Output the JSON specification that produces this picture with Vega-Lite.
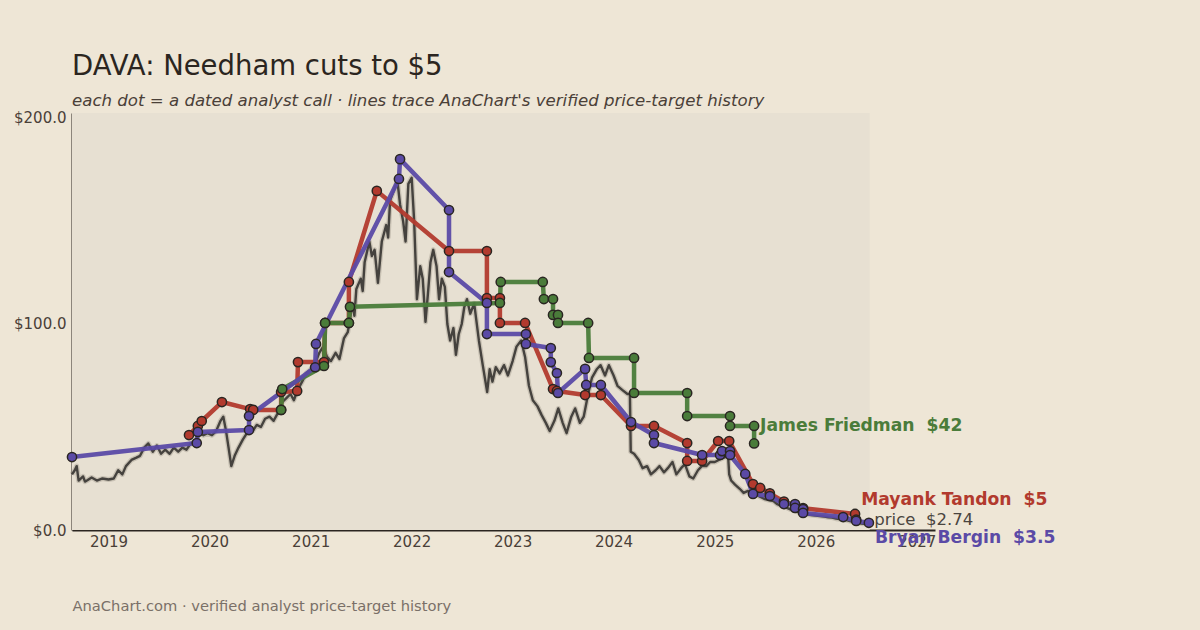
{
  "$schema": "https://vega.github.io/schema/vega-lite/v6.json",
  "width": 863,
  "height": 417,
  "autosize": {"type": "none"},
  "padding": {"left": 72, "top": 113, "right": 265, "bottom": 100},
  "background": "#EEE6D6",
  "config": {"view": {"stroke": null}, "font": "DejaVu Sans"},
  "title": {
    "text": "DAVA: Needham cuts to $5",
    "subtitle": "each dot = a dated analyst call · lines trace AnaChart's verified price-target history",
    "anchor": "start",
    "frame": "group",
    "font": "DejaVu Sans",
    "fontSize": 27.5,
    "fontWeight": "normal",
    "color": "#2B2520",
    "subtitleFont": "DejaVu Sans",
    "subtitleFontSize": 16.6,
    "subtitleFontStyle": "italic",
    "subtitleColor": "#4A4038",
    "subtitlePadding": 13,
    "offset": 1
  },
  "datasets": {
    "price": [
      {"date": "2018-08-22", "close": 27}, {"date": "2018-09-01", "close": 29}, {"date": "2018-09-08", "close": 31}, {"date": "2018-09-15", "close": 24},
      {"date": "2018-10-01", "close": 26}, {"date": "2018-10-08", "close": 23.5}, {"date": "2018-10-15", "close": 24}, {"date": "2018-11-01", "close": 25.5}, {"date": "2018-11-20", "close": 24},
      {"date": "2018-12-10", "close": 25}, {"date": "2019-01-01", "close": 24.5}, {"date": "2019-01-20", "close": 25}, {"date": "2019-02-05", "close": 29},
      {"date": "2019-02-20", "close": 27}, {"date": "2019-03-05", "close": 31}, {"date": "2019-03-25", "close": 34}, {"date": "2019-04-10", "close": 35},
      {"date": "2019-04-25", "close": 36}, {"date": "2019-05-10", "close": 40}, {"date": "2019-05-25", "close": 42}, {"date": "2019-06-10", "close": 38},
      {"date": "2019-06-25", "close": 41}, {"date": "2019-07-10", "close": 37}, {"date": "2019-07-25", "close": 39}, {"date": "2019-08-10", "close": 37},
      {"date": "2019-08-25", "close": 40}, {"date": "2019-09-10", "close": 38}, {"date": "2019-09-25", "close": 40}, {"date": "2019-10-10", "close": 39},
      {"date": "2019-10-25", "close": 42}, {"date": "2019-11-10", "close": 43}, {"date": "2019-11-25", "close": 47}, {"date": "2019-12-10", "close": 46},
      {"date": "2019-12-25", "close": 47}, {"date": "2020-01-10", "close": 46}, {"date": "2020-01-25", "close": 48}, {"date": "2020-02-10", "close": 53},
      {"date": "2020-02-20", "close": 55}, {"date": "2020-03-01", "close": 48}, {"date": "2020-03-10", "close": 40}, {"date": "2020-03-20", "close": 31},
      {"date": "2020-04-01", "close": 36}, {"date": "2020-04-15", "close": 40}, {"date": "2020-05-01", "close": 44}, {"date": "2020-05-20", "close": 48},
      {"date": "2020-06-05", "close": 48}, {"date": "2020-06-20", "close": 51}, {"date": "2020-07-05", "close": 50}, {"date": "2020-07-20", "close": 54},
      {"date": "2020-08-05", "close": 55}, {"date": "2020-08-20", "close": 53}, {"date": "2020-09-05", "close": 57}, {"date": "2020-09-20", "close": 62},
      {"date": "2020-10-05", "close": 64}, {"date": "2020-10-20", "close": 66}, {"date": "2020-11-01", "close": 63}, {"date": "2020-11-15", "close": 68},
      {"date": "2020-12-01", "close": 72}, {"date": "2020-12-15", "close": 76}, {"date": "2021-01-01", "close": 78}, {"date": "2021-01-15", "close": 80},
      {"date": "2021-02-01", "close": 86}, {"date": "2021-02-15", "close": 89}, {"date": "2021-03-01", "close": 84}, {"date": "2021-03-15", "close": 82},
      {"date": "2021-04-01", "close": 86}, {"date": "2021-04-15", "close": 83}, {"date": "2021-05-01", "close": 93}, {"date": "2021-05-15", "close": 96},
      {"date": "2021-06-01", "close": 110}, {"date": "2021-06-08", "close": 104}, {"date": "2021-06-15", "close": 117}, {"date": "2021-07-01", "close": 122}, {"date": "2021-07-08", "close": 116}, {"date": "2021-07-15", "close": 130},
      {"date": "2021-08-01", "close": 140}, {"date": "2021-08-10", "close": 133}, {"date": "2021-08-20", "close": 136}, {"date": "2021-09-01", "close": 120},
      {"date": "2021-09-15", "close": 140}, {"date": "2021-10-01", "close": 148}, {"date": "2021-10-08", "close": 142}, {"date": "2021-10-15", "close": 160}, {"date": "2021-11-01", "close": 166},
      {"date": "2021-11-10", "close": 170}, {"date": "2021-11-20", "close": 158}, {"date": "2021-12-01", "close": 150}, {"date": "2021-12-10", "close": 140},
      {"date": "2021-12-20", "close": 168}, {"date": "2022-01-01", "close": 171}, {"date": "2022-01-10", "close": 150}, {"date": "2022-01-20", "close": 112},
      {"date": "2022-02-01", "close": 128}, {"date": "2022-02-10", "close": 122}, {"date": "2022-02-20", "close": 101}, {"date": "2022-03-01", "close": 115},
      {"date": "2022-03-10", "close": 130}, {"date": "2022-03-20", "close": 136}, {"date": "2022-04-01", "close": 128}, {"date": "2022-04-10", "close": 112},
      {"date": "2022-04-20", "close": 122}, {"date": "2022-05-01", "close": 118}, {"date": "2022-05-10", "close": 100}, {"date": "2022-05-20", "close": 92},
      {"date": "2022-06-01", "close": 98}, {"date": "2022-06-10", "close": 85}, {"date": "2022-06-20", "close": 95}, {"date": "2022-07-01", "close": 100},
      {"date": "2022-07-10", "close": 108}, {"date": "2022-07-20", "close": 112}, {"date": "2022-08-01", "close": 105}, {"date": "2022-08-15", "close": 110},
      {"date": "2022-09-01", "close": 92}, {"date": "2022-09-15", "close": 80}, {"date": "2022-10-01", "close": 67}, {"date": "2022-10-10", "close": 78},
      {"date": "2022-10-20", "close": 72}, {"date": "2022-11-01", "close": 79}, {"date": "2022-11-15", "close": 76}, {"date": "2022-12-01", "close": 80},
      {"date": "2022-12-15", "close": 75}, {"date": "2023-01-01", "close": 82}, {"date": "2023-01-15", "close": 89}, {"date": "2023-02-01", "close": 92},
      {"date": "2023-02-15", "close": 84}, {"date": "2023-03-01", "close": 70}, {"date": "2023-03-15", "close": 63}, {"date": "2023-04-01", "close": 60},
      {"date": "2023-04-15", "close": 56}, {"date": "2023-05-01", "close": 52}, {"date": "2023-05-15", "close": 48}, {"date": "2023-06-01", "close": 53},
      {"date": "2023-06-15", "close": 59}, {"date": "2023-07-01", "close": 52}, {"date": "2023-07-15", "close": 47}, {"date": "2023-08-01", "close": 55},
      {"date": "2023-08-15", "close": 59}, {"date": "2023-09-01", "close": 52}, {"date": "2023-09-15", "close": 55}, {"date": "2023-10-01", "close": 66},
      {"date": "2023-10-15", "close": 74}, {"date": "2023-11-01", "close": 78}, {"date": "2023-11-15", "close": 80}, {"date": "2023-12-01", "close": 75},
      {"date": "2023-12-15", "close": 80}, {"date": "2024-01-01", "close": 75}, {"date": "2024-01-15", "close": 70}, {"date": "2024-02-01", "close": 68},
      {"date": "2024-02-20", "close": 66}, {"date": "2024-02-29", "close": 66}, {"date": "2024-03-03", "close": 38}, {"date": "2024-03-15", "close": 37},
      {"date": "2024-04-01", "close": 34}, {"date": "2024-04-15", "close": 30}, {"date": "2024-05-01", "close": 31}, {"date": "2024-05-15", "close": 27},
      {"date": "2024-06-01", "close": 29}, {"date": "2024-06-15", "close": 31}, {"date": "2024-07-01", "close": 28}, {"date": "2024-07-15", "close": 30},
      {"date": "2024-08-01", "close": 33}, {"date": "2024-08-15", "close": 27}, {"date": "2024-09-01", "close": 30}, {"date": "2024-09-15", "close": 32},
      {"date": "2024-10-01", "close": 26}, {"date": "2024-10-15", "close": 25}, {"date": "2024-11-01", "close": 29}, {"date": "2024-11-15", "close": 31},
      {"date": "2024-12-01", "close": 31}, {"date": "2024-12-15", "close": 33}, {"date": "2025-01-01", "close": 33}, {"date": "2025-01-15", "close": 34},
      {"date": "2025-02-01", "close": 35}, {"date": "2025-02-18", "close": 36}, {"date": "2025-02-22", "close": 27}, {"date": "2025-03-01", "close": 24},
      {"date": "2025-03-15", "close": 22}, {"date": "2025-04-01", "close": 20}, {"date": "2025-04-15", "close": 18}, {"date": "2025-05-01", "close": 19},
      {"date": "2025-05-15", "close": 17}, {"date": "2025-06-01", "close": 17}, {"date": "2025-06-15", "close": 16}, {"date": "2025-07-01", "close": 15},
      {"date": "2025-07-15", "close": 14.5}, {"date": "2025-08-01", "close": 14}, {"date": "2025-08-15", "close": 12.5}, {"date": "2025-09-01", "close": 11.5},
      {"date": "2025-09-15", "close": 11}, {"date": "2025-10-01", "close": 10}, {"date": "2025-10-15", "close": 9.5}, {"date": "2025-11-01", "close": 8.5},
      {"date": "2025-11-15", "close": 8}, {"date": "2025-12-01", "close": 7.5}, {"date": "2025-12-15", "close": 7.3}, {"date": "2026-01-01", "close": 7},
      {"date": "2026-01-15", "close": 6.8}, {"date": "2026-02-01", "close": 6.5}, {"date": "2026-02-15", "close": 6.2}, {"date": "2026-03-01", "close": 6},
      {"date": "2026-03-15", "close": 5.5}, {"date": "2026-04-01", "close": 5.2}, {"date": "2026-04-15", "close": 5}, {"date": "2026-05-01", "close": 4.5},
      {"date": "2026-05-15", "close": 4}, {"date": "2026-06-01", "close": 3.5}, {"date": "2026-06-15", "close": 3.1}, {"date": "2026-07-10", "close": 2.74}
    ],
    "calls": [
      {"who": "Mayank Tandon", "i": 1, "date": "2019-10-19", "target": 46.1},
      {"who": "Mayank Tandon", "i": 2, "date": "2019-11-20", "target": 50.5},
      {"who": "Mayank Tandon", "i": 3, "date": "2019-12-04", "target": 52.9},
      {"who": "Mayank Tandon", "i": 4, "date": "2020-02-15", "target": 62.1},
      {"who": "Mayank Tandon", "i": 5, "date": "2020-05-27", "target": 58.7},
      {"who": "Mayank Tandon", "i": 6, "date": "2020-06-07", "target": 58.3},
      {"who": "Mayank Tandon", "i": 7, "date": "2020-09-16", "target": 58.3},
      {"who": "Mayank Tandon", "i": 8, "date": "2020-09-16", "target": 67},
      {"who": "Mayank Tandon", "i": 9, "date": "2020-11-13", "target": 67.5},
      {"who": "Mayank Tandon", "i": 10, "date": "2020-11-16", "target": 81.5},
      {"who": "Mayank Tandon", "i": 11, "date": "2021-02-18", "target": 81.5},
      {"who": "Mayank Tandon", "i": 12, "date": "2021-02-22", "target": 100.5},
      {"who": "Mayank Tandon", "i": 13, "date": "2021-05-19", "target": 100.5},
      {"who": "Mayank Tandon", "i": 14, "date": "2021-05-19", "target": 120.4},
      {"who": "Mayank Tandon", "i": 15, "date": "2021-08-28", "target": 164.6},
      {"who": "Mayank Tandon", "i": 16, "date": "2022-05-16", "target": 135.4},
      {"who": "Mayank Tandon", "i": 17, "date": "2022-09-30", "target": 135.4},
      {"who": "Mayank Tandon", "i": 18, "date": "2022-09-30", "target": 112.6},
      {"who": "Mayank Tandon", "i": 19, "date": "2022-11-16", "target": 112.6},
      {"who": "Mayank Tandon", "i": 20, "date": "2022-11-16", "target": 100.5},
      {"who": "Mayank Tandon", "i": 21, "date": "2023-02-15", "target": 100.5},
      {"who": "Mayank Tandon", "i": 22, "date": "2023-05-27", "target": 68.4},
      {"who": "Mayank Tandon", "i": 23, "date": "2023-06-10", "target": 67.5},
      {"who": "Mayank Tandon", "i": 24, "date": "2023-09-20", "target": 65.5},
      {"who": "Mayank Tandon", "i": 25, "date": "2023-11-16", "target": 65.5},
      {"who": "Mayank Tandon", "i": 26, "date": "2024-03-04", "target": 50.5},
      {"who": "Mayank Tandon", "i": 27, "date": "2024-05-26", "target": 50.5},
      {"who": "Mayank Tandon", "i": 28, "date": "2024-09-23", "target": 42.2},
      {"who": "Mayank Tandon", "i": 29, "date": "2024-09-23", "target": 33.5},
      {"who": "Mayank Tandon", "i": 30, "date": "2024-11-16", "target": 33.5},
      {"who": "Mayank Tandon", "i": 31, "date": "2025-01-13", "target": 43.2},
      {"who": "Mayank Tandon", "i": 32, "date": "2025-02-22", "target": 43.2},
      {"who": "Mayank Tandon", "i": 33, "date": "2025-05-19", "target": 22.3},
      {"who": "Mayank Tandon", "i": 34, "date": "2025-06-14", "target": 20.4},
      {"who": "Mayank Tandon", "i": 35, "date": "2025-07-19", "target": 17.8},
      {"who": "Mayank Tandon", "i": 36, "date": "2025-09-08", "target": 13.8},
      {"who": "Mayank Tandon", "i": 37, "date": "2025-11-16", "target": 10.6},
      {"who": "Mayank Tandon", "i": 38, "date": "2026-05-23", "target": 7.8},
      {"who": "Mayank Tandon", "i": 39, "date": "2026-05-27", "target": 5},
      {"who": "James Friedman", "i": 1, "date": "2020-09-16", "target": 58.3},
      {"who": "James Friedman", "i": 2, "date": "2020-09-20", "target": 68.4},
      {"who": "James Friedman", "i": 3, "date": "2021-02-18", "target": 79.6},
      {"who": "James Friedman", "i": 4, "date": "2021-02-22", "target": 100.5},
      {"who": "James Friedman", "i": 5, "date": "2021-05-19", "target": 100.5},
      {"who": "James Friedman", "i": 6, "date": "2021-05-23", "target": 108.3},
      {"who": "James Friedman", "i": 7, "date": "2022-11-16", "target": 110.2},
      {"who": "James Friedman", "i": 8, "date": "2022-11-19", "target": 120.4},
      {"who": "James Friedman", "i": 9, "date": "2023-04-20", "target": 120.4},
      {"who": "James Friedman", "i": 10, "date": "2023-04-24", "target": 112.1},
      {"who": "James Friedman", "i": 11, "date": "2023-05-27", "target": 112.1},
      {"who": "James Friedman", "i": 12, "date": "2023-05-27", "target": 104.4},
      {"who": "James Friedman", "i": 13, "date": "2023-06-14", "target": 104.4},
      {"who": "James Friedman", "i": 14, "date": "2023-06-14", "target": 100.5},
      {"who": "James Friedman", "i": 15, "date": "2023-10-01", "target": 100.5},
      {"who": "James Friedman", "i": 16, "date": "2023-10-04", "target": 83.5},
      {"who": "James Friedman", "i": 17, "date": "2024-03-15", "target": 83.5},
      {"who": "James Friedman", "i": 18, "date": "2024-03-15", "target": 66.5},
      {"who": "James Friedman", "i": 19, "date": "2024-09-23", "target": 66.5},
      {"who": "James Friedman", "i": 20, "date": "2024-09-23", "target": 55.3},
      {"who": "James Friedman", "i": 21, "date": "2025-02-25", "target": 55.3},
      {"who": "James Friedman", "i": 22, "date": "2025-02-25", "target": 50.5},
      {"who": "James Friedman", "i": 23, "date": "2025-05-23", "target": 50.5},
      {"who": "James Friedman", "i": 24, "date": "2025-05-23", "target": 42},
      {"who": "Bryan Bergin", "i": 1, "date": "2018-08-22", "target": 35.4},
      {"who": "Bryan Bergin", "i": 2, "date": "2019-11-16", "target": 42.2},
      {"who": "Bryan Bergin", "i": 3, "date": "2019-11-20", "target": 47.6},
      {"who": "Bryan Bergin", "i": 4, "date": "2020-05-23", "target": 48.5},
      {"who": "Bryan Bergin", "i": 5, "date": "2020-05-23", "target": 55.3},
      {"who": "Bryan Bergin", "i": 6, "date": "2021-01-17", "target": 79},
      {"who": "Bryan Bergin", "i": 7, "date": "2021-01-20", "target": 90.3},
      {"who": "Bryan Bergin", "i": 8, "date": "2021-11-16", "target": 170.4},
      {"who": "Bryan Bergin", "i": 9, "date": "2021-11-20", "target": 180},
      {"who": "Bryan Bergin", "i": 10, "date": "2022-05-16", "target": 155.3},
      {"who": "Bryan Bergin", "i": 11, "date": "2022-05-16", "target": 125.2},
      {"who": "Bryan Bergin", "i": 12, "date": "2022-09-30", "target": 110.2},
      {"who": "Bryan Bergin", "i": 13, "date": "2022-09-30", "target": 95.1},
      {"who": "Bryan Bergin", "i": 14, "date": "2023-02-18", "target": 95.1},
      {"who": "Bryan Bergin", "i": 15, "date": "2023-02-18", "target": 90.3},
      {"who": "Bryan Bergin", "i": 16, "date": "2023-05-19", "target": 88.3},
      {"who": "Bryan Bergin", "i": 17, "date": "2023-05-19", "target": 81.5},
      {"who": "Bryan Bergin", "i": 18, "date": "2023-06-10", "target": 76.2},
      {"who": "Bryan Bergin", "i": 19, "date": "2023-06-14", "target": 66.5},
      {"who": "Bryan Bergin", "i": 20, "date": "2023-09-20", "target": 78.2},
      {"who": "Bryan Bergin", "i": 21, "date": "2023-09-24", "target": 70.4},
      {"who": "Bryan Bergin", "i": 22, "date": "2023-11-16", "target": 70.4},
      {"who": "Bryan Bergin", "i": 23, "date": "2024-03-04", "target": 52.4},
      {"who": "Bryan Bergin", "i": 24, "date": "2024-05-26", "target": 46.1},
      {"who": "Bryan Bergin", "i": 25, "date": "2024-05-26", "target": 42.2},
      {"who": "Bryan Bergin", "i": 26, "date": "2024-11-16", "target": 36.4},
      {"who": "Bryan Bergin", "i": 27, "date": "2025-01-20", "target": 36.4},
      {"who": "Bryan Bergin", "i": 28, "date": "2025-01-27", "target": 38.3},
      {"who": "Bryan Bergin", "i": 29, "date": "2025-02-25", "target": 38.3},
      {"who": "Bryan Bergin", "i": 30, "date": "2025-02-25", "target": 36.4},
      {"who": "Bryan Bergin", "i": 31, "date": "2025-04-21", "target": 27.2},
      {"who": "Bryan Bergin", "i": 32, "date": "2025-05-19", "target": 17.5},
      {"who": "Bryan Bergin", "i": 33, "date": "2025-07-19", "target": 16.5},
      {"who": "Bryan Bergin", "i": 34, "date": "2025-09-08", "target": 12.6},
      {"who": "Bryan Bergin", "i": 35, "date": "2025-10-18", "target": 12.6},
      {"who": "Bryan Bergin", "i": 36, "date": "2025-10-18", "target": 10.7},
      {"who": "Bryan Bergin", "i": 37, "date": "2025-11-16", "target": 10.2},
      {"who": "Bryan Bergin", "i": 38, "date": "2025-11-16", "target": 8.3},
      {"who": "Bryan Bergin", "i": 39, "date": "2026-04-10", "target": 6.3},
      {"who": "Bryan Bergin", "i": 40, "date": "2026-05-27", "target": 4.4},
      {"who": "Bryan Bergin", "i": 41, "date": "2026-07-12", "target": 3.5}
    ],
    "labels": [
      {"who": "James Friedman", "date": "2025-05-23", "target": 42, "label": "James Friedman\u00a0 $42"},
      {"who": "Mayank Tandon", "date": "2026-05-27", "target": 5, "label": "Mayank Tandon\u00a0 $5"},
      {"who": "price", "date": "2026-07-10", "target": 2.74, "label": "price\u00a0 $2.74"},
      {"who": "Bryan Bergin", "date": "2026-07-12", "target": 3.5, "label": "Bryan Bergin\u00a0 $3.5"}
    ]
  },
  "layer": [
    {
      "data": {"values": [{}]},
      "mark": {"type": "rect", "color": "#E7E0D2"},
      "encoding": {
        "x": {"datum": {"year": 2018, "month": 8, "date": 22}, "type": "temporal"},
        "x2": {"datum": {"year": 2026, "month": 7, "date": 15}}
      }
    },
    {
      "data": {"name": "price"},
      "mark": {"type": "line", "color": "#8E877C", "strokeWidth": 5, "strokeJoin": "round", "opacity": 0.35},
      "encoding": {
        "x": {
          "field": "date", "type": "temporal",
          "scale": {"domain": [{"year": 2018, "month": 8, "date": 22}, {"year": 2027, "month": 3, "date": 8}]},
          "axis": {
            "title": "AnaChart.com · verified analyst price-target history",
            "titleX": 0, "titleY": 76, "titleAlign": "left", "titleBaseline": "middle", "titleAnchor": null,
            "titleFont": "DejaVu Sans", "titleFontSize": 14.7, "titleFontWeight": "normal", "titleColor": "#7A7068",
            "format": "%Y", "tickCount": {"interval": "year", "step": 1},
            "ticks": false, "grid": false, "labelPadding": 4,
            "labelFont": "DejaVu Sans", "labelFontSize": 15, "labelColor": "#4A4038",
            "domainColor": "#2A2520", "domainWidth": 2, "labelFlush": false
          }
        },
        "y": {
          "field": "close", "type": "quantitative",
          "scale": {"domain": [0, 202.4], "nice": false},
          "axis": {
            "title": null, "values": [0, 100, 200], "format": "$.1f",
            "ticks": false, "grid": false, "labelPadding": 6,
            "labelFont": "DejaVu Sans", "labelFontSize": 15, "labelColor": "#4A4038",
            "domainColor": "#2A2520", "domainWidth": 2
          }
        }
      }
    },
    {
      "data": {"name": "price"},
      "mark": {"type": "line", "color": "#45423E", "strokeWidth": 2.4, "strokeJoin": "round"},
      "encoding": {
        "x": {"field": "date", "type": "temporal"},
        "y": {"field": "close", "type": "quantitative"}
      }
    },
    {
      "data": {"name": "calls"},
      "mark": {"type": "line", "strokeWidth": 4.5, "strokeJoin": "round", "opacity": 0.95},
      "encoding": {
        "x": {"field": "date", "type": "temporal"},
        "y": {"field": "target", "type": "quantitative"},
        "color": {"field": "who", "type": "nominal", "legend": null,
          "scale": {"domain": ["Mayank Tandon", "James Friedman", "Bryan Bergin"], "range": ["#B23A2E", "#4A7C3A", "#5B4AA6"]}},
        "order": {"field": "i", "type": "quantitative"}
      }
    },
    {
      "data": {"name": "calls"},
      "mark": {"type": "point", "filled": true, "size": 85, "stroke": "#2A2622", "strokeWidth": 1.5, "opacity": 1},
      "encoding": {
        "x": {"field": "date", "type": "temporal"},
        "y": {"field": "target", "type": "quantitative"},
        "fill": {"field": "who", "type": "nominal", "legend": null,
          "scale": {"domain": ["Mayank Tandon", "James Friedman", "Bryan Bergin"], "range": ["#B23A2E", "#4A7C3A", "#5B4AA6"]}}
      }
    },
    {
      "data": {"name": "labels"},
      "transform": [{"filter": "datum.who === 'James Friedman'"}],
      "mark": {"type": "text", "align": "left", "baseline": "middle", "dx": 6, "dy": -17, "font": "DejaVu Sans", "fontSize": 17.2, "fontWeight": "bold", "color": "#4A7C3A"},
      "encoding": {"x": {"field": "date", "type": "temporal"}, "y": {"field": "target", "type": "quantitative"}, "text": {"field": "label"}}
    },
    {
      "data": {"name": "labels"},
      "transform": [{"filter": "datum.who === 'Mayank Tandon'"}],
      "mark": {"type": "text", "align": "left", "baseline": "middle", "dx": 5, "dy": -20, "font": "DejaVu Sans", "fontSize": 17.2, "fontWeight": "bold", "color": "#B23A2E"},
      "encoding": {"x": {"field": "date", "type": "temporal"}, "y": {"field": "target", "type": "quantitative"}, "text": {"field": "label"}}
    },
    {
      "data": {"name": "labels"},
      "transform": [{"filter": "datum.who === 'price'"}],
      "mark": {"type": "text", "align": "left", "baseline": "middle", "dx": 6, "dy": -4, "font": "DejaVu Sans", "fontSize": 16.5, "fontWeight": "normal", "color": "#4A4540"},
      "encoding": {"x": {"field": "date", "type": "temporal"}, "y": {"field": "target", "type": "quantitative"}, "text": {"field": "label"}}
    },
    {
      "data": {"name": "labels"},
      "transform": [{"filter": "datum.who === 'Bryan Bergin'"}],
      "mark": {"type": "text", "align": "left", "baseline": "middle", "dx": 6, "dy": 15, "font": "DejaVu Sans", "fontSize": 17.2, "fontWeight": "bold", "color": "#5B4AA6"},
      "encoding": {"x": {"field": "date", "type": "temporal"}, "y": {"field": "target", "type": "quantitative"}, "text": {"field": "label"}}
    }
  ]
}
